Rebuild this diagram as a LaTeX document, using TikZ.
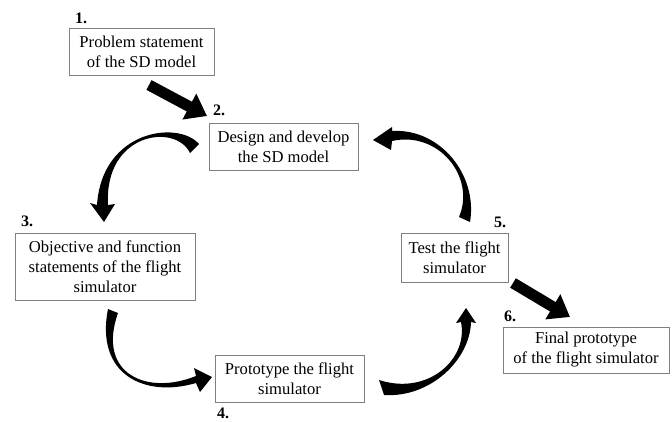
\documentclass[tikz,border=0pt]{standalone}
\usepackage{fontspec}
\setmainfont{Liberation Serif}
\usetikzlibrary{arrows.meta}
\tikzset{
  stepbox/.style={draw=black!50, line width=1pt, fill=white, inner sep=0pt, align=center,
    font=\fontsize{16.6}{20}\selectfont},
  numlabel/.style={inner sep=0pt, font=\fontsize{16}{18}\selectfont\bfseries},
  fatarrow/.style={line width=11pt, -{Triangle[length=20pt,width=28pt]}},
  curvearrow/.style={fill=black, draw=none}
}
\begin{document}
\begin{tikzpicture}[x=1pt,y=-1pt]
\useasboundingbox (0,0) rectangle (672,421);
% boxes
\node[stepbox, minimum width=145pt, minimum height=47pt] (b1) at (141.5,51.5) {Problem statement\\of the SD model};
\node[stepbox, minimum width=149pt, minimum height=47pt] (b2) at (283.5,146.5) {Design and develop\\the SD model};
\node[stepbox, minimum width=180pt, minimum height=67pt] (b3) at (105,266.5) {Objective and function\\statements of the flight\\simulator};
\node[stepbox, minimum width=149pt, minimum height=47pt] (b4) at (289.5,378.5) {Prototype the flight\\simulator};
\node[stepbox, minimum width=107pt, minimum height=49pt] (b5) at (454.5,257.5) {Test the flight\\simulator};
\node[stepbox, minimum width=166pt, minimum height=46pt] (b6) at (586,350) {Final prototype\\of the flight simulator};
% numbers
\node[numlabel] (n1) at (81,18) {1.};
\node[numlabel] (n2) at (219,110) {2.};
\node[numlabel] (n3) at (27,221) {3.};
\node[numlabel] (n4) at (223,413) {4.};
\node[numlabel] (n5) at (500,222) {5.};
\node[numlabel] (n6) at (510,316) {6.};
% straight arrows
\coordinate (s1) at (149,85);
\coordinate (e1) at (207,116);
\coordinate (s5) at (513,283);
\coordinate (e5) at (570,317);
\draw[fatarrow] (s1) -- (e1);
\draw[fatarrow] (s5) -- (e5);
% curved arrow 2 -> 3
\fill[curvearrow] (199,144) .. controls (178,120) and (102,130) .. (97,205)
  -- (90,203) -- (104,222) -- (115,204) -- (108,205)
  .. controls (104,132) and (176,123) .. (190,153) -- cycle;
% curved arrow 5 -> 2
\fill[curvearrow] (470,222) .. controls (478,175) and (440,128) .. (392,131)
  -- (392,127) -- (373,140) -- (391,150) -- (392,141)
  .. controls (438.5,130.5) and (476,177) .. (459,217) -- cycle;
% curved arrow 3 -> 4
\fill[curvearrow] (108,309) .. controls (95,375) and (145,398) .. (196,383)
  -- (200,392) -- (212,377) -- (194,368) -- (196,376)
  .. controls (146.5,396) and (96.5,373.5) .. (118,313) -- cycle;
% curved arrow 4 -> 5
\fill[curvearrow] (384,395) .. controls (430,398) and (470,360) .. (471,322)
  -- (476,323) -- (466,308) -- (456,323) -- (461,322)
  .. controls (468.5,358.5) and (428.5,396) .. (379,380) -- cycle;
\end{tikzpicture}
\end{document}
